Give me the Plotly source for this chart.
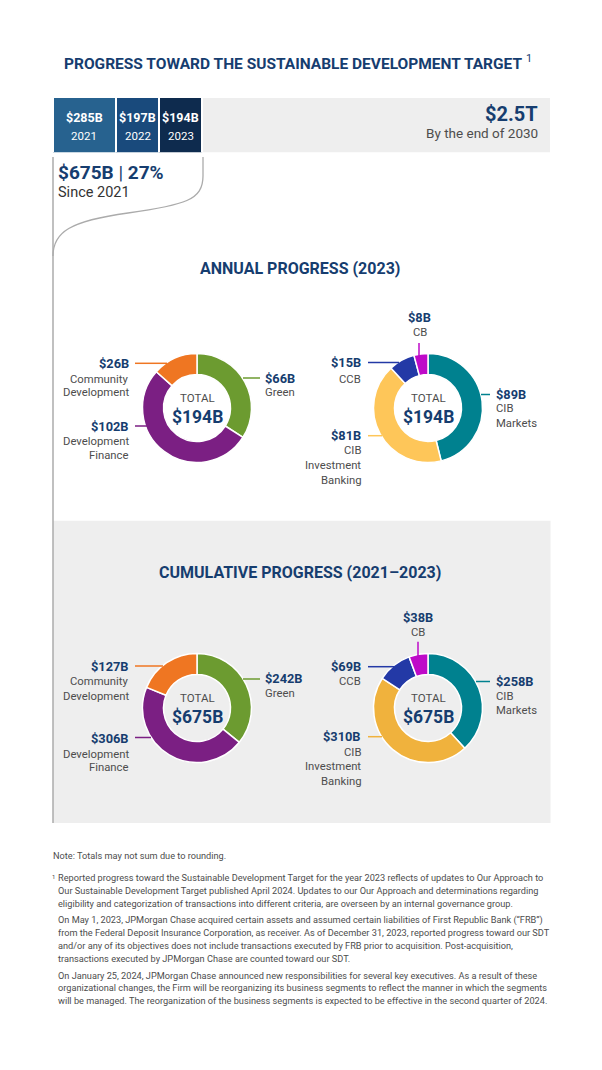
import plotly.graph_objects as go

W, H = 602, 1070

# ---------------- data ----------------
years = ["2021", "2022", "2023"]
year_values = [285, 197, 194]            # $B financed per year
target_value = 2500                      # $B target by end of 2030
since_2021_total = 675
since_2021_pct = 27

objective_labels = ["Green", "Development Finance", "Community Development"]
annual_objective_values = [66, 102, 26]
cumulative_objective_values = [242, 306, 127]

segment_labels = ["CIB Markets", "CIB Investment Banking", "CCB", "CB"]
annual_segment_values = [89, 81, 15, 8]
cumulative_segment_values = [258, 310, 69, 38]

annual_total = 194
cumulative_total = 675

# ---------------- styles ----------------
NAVY = "#163d6f"
GRAY_TXT = "#4d4d4d"
year_colors = ["#27628f", "#194a7c", "#0e2b4e"]
REMAIN = "#eeeeee"
objective_colors = ["#6c9b30", "#7b1f83", "#ef7622"]
annual_segment_colors = ["#00818f", "#fec659", "#2339a6", "#be0ac8"]
cumulative_segment_colors = ["#00818f", "#f0b23d", "#2339a6", "#be0ac8"]

BOLD = "Roboto"
BODY = "Roboto"


def X(px):
    return px / W


def Y(py):
    return 1 - py / H


annotations = []
shapes = []


def txt(x, y, text, size, color, anchor="center", family=BODY, yanchor="middle"):
    annotations.append(dict(x=X(x), y=Y(y), xref="paper", yref="paper", text=text,
                            showarrow=False, xanchor=anchor, yanchor=yanchor,
                            borderpad=0,
                            font=dict(size=size, color=color, family=family)))


def line(x0, y0, x1, y1, color, width=1.5):
    shapes.append(dict(type="line", xref="paper", yref="paper", x0=X(x0), y0=Y(y0),
                       x1=X(x1), y1=Y(y1), line=dict(color=color, width=width)))


fig = go.Figure()

# ---------------- progress bar ----------------
BAR_X0, BAR_X1 = 53, 550
BAR_Y0, BAR_Y1 = 96.7, 152.5
for yr, v, c in zip(years, year_values, year_colors):
    fig.add_trace(go.Bar(x=[v], y=["SDT"], orientation="h", marker=dict(color=c, line=dict(color="white", width=2)),
                         hoverinfo="skip", showlegend=False))
remaining = target_value - sum(year_values)
fig.add_trace(go.Bar(x=[remaining], y=["SDT"], orientation="h",
                     marker=dict(color=REMAIN, line=dict(color="white", width=2)),
                     hoverinfo="skip", showlegend=False))

cum = 0
for yr, v in zip(years, year_values):
    mid = cum + v / 2
    cum += v
    annotations.append(dict(x=mid, y=Y(117.7), xref="x", yref="paper", text=f"<b>${v}B</b>",
                            showarrow=False, xanchor="center", yanchor="middle",
                            font=dict(size=12.5, color="white", family=BOLD)))
    annotations.append(dict(x=mid, y=Y(136.5), xref="x", yref="paper", text=yr,
                            showarrow=False, xanchor="center", yanchor="middle",
                            font=dict(size=11.5, color="white", family=BODY)))

txt(539, 114, f"<b>${target_value/1000:.1f}T</b>", 20, NAVY, anchor="right", family=BOLD)
txt(539, 133, "By the end of 2030", 13.5, GRAY_TXT, anchor="right")

txt(57, 173, f"<b>${since_2021_total}B</b> | <b>{since_2021_pct}%</b>", 19, NAVY, anchor="left", family=BOLD)
txt(57, 193, "Since 2021", 14.5, "#333333", anchor="left")

# title
txt(298, 62, "<b>PROGRESS TOWARD THE SUSTAINABLE DEVELOPMENT TARGET</b> <sup>1</sup>", 15.5, NAVY, family=BOLD)

# bracket
LINE_C = "#ababab"
p = [(203, 157), (203, 176), (203, 200), (185, 205), (128, 213), (70, 221), (53, 232), (53, 256)]
path = "M {},{} L {},{} C {},{} {},{} {},{} C {},{} {},{} {},{}".format(
    *[v for pt in p for v in (X(pt[0]), Y(pt[1]))])
shapes.append(dict(type="path", xref="paper", yref="paper", path=path,
                   line=dict(color=LINE_C, width=1.3)))

# cumulative panel background
shapes.append(dict(type="rect", xref="paper", yref="paper", x0=X(53), x1=X(550.5),
                   y0=Y(823), y1=Y(520.7), fillcolor="#eeeeee", line=dict(width=0), layer="below"))
line(53, 157, 53, 823, LINE_C, 1.5)

# section headings
txt(300, 268, "<b>ANNUAL PROGRESS (2023)</b>", 16, NAVY, family=BOLD)
txt(300, 572, "<b>CUMULATIVE PROGRESS (2021–2023)</b>", 16, NAVY, family=BOLD)

# ---------------- donuts ----------------
R = 54.5


def donut(cx, cy, labels, values, colors, total, label_layout):
    fig.add_trace(go.Pie(labels=labels, values=values, hole=0.615, sort=False,
                         direction="clockwise", rotation=0,
                         marker=dict(colors=colors, line=dict(color="white", width=1.5)),
                         textinfo="none", hoverinfo="label+value", showlegend=False,
                         domain=dict(x=[X(cx - R), X(cx + R)], y=[Y(cy + R), Y(cy - R)])))
    txt(cx, cy - 10.5, "TOTAL", 11.5, GRAY_TXT)
    txt(cx, cy + 8.5, f"<b>${total}B</b>", 17.5, NAVY, family=BOLD)
    for v, c, lay in zip(values, colors, label_layout):
        anchor, lx, vy, subs, lead = lay
        txt(lx, vy, f"<b>${v}B</b>", 12.8, NAVY, anchor=anchor, family=BOLD)
        for s, sy in subs:
            txt(lx, sy, s, 11.3, GRAY_TXT, anchor=anchor)
        line(*lead, c, 1.5)


# label layout: (anchor, x, value_y, [(subtitle, y)...], leader(x0,y0,x1,y1))
annual_objective_layout = [
    ("left", 264, 378, [("Green", 392.5)], (243, 378, 260, 378)),
    ("right", 130, 426, [("Development", 441), ("Finance", 455)], (135, 426, 147, 426)),
    ("right", 130, 363.3, [("Community", 379), ("Development", 393)], (135, 363.3, 167, 363.3)),
]
annual_segment_layout = [
    ("left", 495, 394, [("CIB", 409), ("Markets", 423.5)], (481, 394.5, 490, 394.5)),
    ("right", 362, 435.7, [("CIB", 451), ("Investment", 465.7), ("Banking", 480)], (368, 435.7, 382, 435.7)),
    ("right", 362, 362.7, [("CCB", 379)], (368, 362.5, 399, 362.5)),
    ("center", 419.5, 317.7, [("CB", 332.7)], (419, 343, 419, 356)),
]
cumulative_objective_layout = [
    ("left", 264, 678.5, [("Green", 693.5)], (243, 679, 260, 679)),
    ("right", 130, 738, [("Development", 754), ("Finance", 768)], (135, 737.5, 151, 737.5)),
    ("right", 130, 666.7, [("Community", 681.7), ("Development", 696)], (135, 666, 163, 666)),
]
cumulative_segment_layout = [
    ("left", 495, 681, [("CIB", 696.5), ("Markets", 710.7)], (476, 681.5, 490, 681.5)),
    ("right", 362, 736.7, [("CIB", 752.3), ("Investment", 766.7), ("Banking", 781.7)], (368, 736.7, 382, 736.7)),
    ("right", 362, 666.7, [("CCB", 681.7)], (368, 666.7, 394, 666.7)),
    ("center", 418, 617.3, [("CB", 632.3)], (418, 641.7, 418, 656)),
]

donut(197, 408, objective_labels, annual_objective_values, objective_colors, annual_total, annual_objective_layout)
donut(428, 408, segment_labels, annual_segment_values, annual_segment_colors, annual_total, annual_segment_layout)
donut(197, 708, objective_labels, cumulative_objective_values, objective_colors, cumulative_total, cumulative_objective_layout)
donut(428, 708, segment_labels, cumulative_segment_values, cumulative_segment_colors, cumulative_total, cumulative_segment_layout)

# ---------------- footnotes ----------------
FN = "#4d4d4d"
FS = 9.2
txt(52, 855.7, "Note: Totals may not sum due to rounding.", FS, FN, anchor="left")
txt(51, 876.5, "1", 6, FN, anchor="left")
foot_lines = [
    ("Reported progress toward the Sustainable Development Target for the year 2023 reflects of updates to Our Approach to", 877.7),
    ("Our Sustainable Development Target published April 2024. Updates to our Our Approach and determinations regarding", 890.7),
    ("eligibility and categorization of transactions into different criteria, are overseen by an internal governance group.", 903.7),
    ("On May 1, 2023, JPMorgan Chase acquired certain assets and assumed certain liabilities of First Republic Bank (“FRB”)", 920),
    ("from the Federal Deposit Insurance Corporation, as receiver. As of December 31, 2023, reported progress toward our SDT", 932.7),
    ("and/or any of its objectives does not include transactions executed by FRB prior to acquisition. Post-acquisition,", 945.3),
    ("transactions executed by JPMorgan Chase are counted toward our SDT.", 958.3),
    ("On January 25, 2024, JPMorgan Chase announced new responsibilities for several key executives. As a result of these", 975),
    ("organizational changes, the Firm will be reorganizing its business segments to reflect the manner in which the segments", 987.7),
    ("will be managed. The reorganization of the business segments is expected to be effective in the second quarter of 2024.", 1000.3),
]
for t, yy in foot_lines:
    txt(56.5, yy, t, FS, FN, anchor="left")

fig.update_layout(
    width=W, height=H, autosize=False,
    margin=dict(l=0, r=0, t=0, b=0),
    paper_bgcolor="white", plot_bgcolor="rgba(0,0,0,0)",
    barmode="stack", bargap=0,
    xaxis=dict(domain=[X(BAR_X0), X(BAR_X1)], range=[0, 2250], visible=False, fixedrange=True),
    yaxis=dict(domain=[Y(BAR_Y1), Y(BAR_Y0)], range=[-0.5, 0.5], visible=False, fixedrange=True),
    annotations=annotations, shapes=shapes,
    font=dict(family=BODY),
)

fig.write_html("out.html", config={"displayModeBar": False},
               post_script="document.body.style.margin='0px';document.body.style.overflow='hidden';")
